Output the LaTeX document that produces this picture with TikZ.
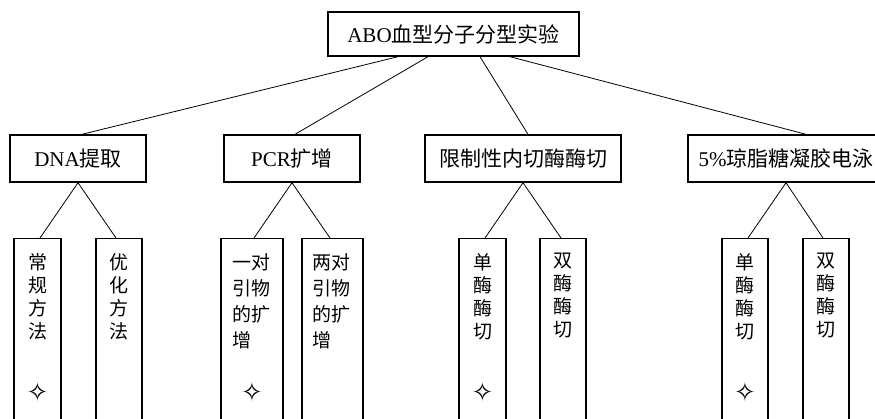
\documentclass[tikz,border=0pt]{standalone}
\usepackage{fontspec}
\setmainfont{Liberation Serif}
\newfontfamily\cjk{Noto Sans CJK SC}
\newfontfamily\symf{DejaVu Sans}
\begin{document}
\begin{tikzpicture}[x=1pt,y=-1pt,
  box/.style={draw, line width=1.4pt, inner sep=0pt, font=\fontsize{21}{25}\selectfont},
  leaf/.style={draw, line width=1.4pt, inner sep=0pt, anchor=north, minimum height=230},
  ltext/.style={anchor=north, inner sep=0pt, align=left, font=\cjk\fontsize{19}{23}\selectfont},
  star/.style={inner sep=0pt, font=\symf\fontsize{26}{26}\selectfont},
  conn/.style={line width=0.8pt}]
\useasboundingbox (0,0) rectangle (875,418);
\fill[white] (0,0) rectangle (875,418);
% top
\node[box, minimum width=251, minimum height=44] (top) at (453.5,34) {ABO{\cjk 血型分子分型实验}};
% level 2
\node[box, minimum width=136, minimum height=47] (dna) at (78,158.5) {DNA{\cjk 提取}};
\node[box, minimum width=136, minimum height=47] (pcr) at (292,158.5) {PCR{\cjk 扩增}};
\node[box, minimum width=196, minimum height=47] (xz) at (523,158.5) {{\cjk 限制性内切酶酶切}};
\node[box, minimum width=196, minimum height=47] (dy) at (786,158.5) {5\%{\cjk 琼脂糖凝胶电泳}};
% top connectors
\draw[conn] ([xshift=-55.5]top.south) -- ([xshift=4]dna.north);
\draw[conn] ([xshift=-25.5]top.south) -- ([xshift=3]pcr.north);
\draw[conn] ([xshift=26.5]top.south) -- ([xshift=5]xz.north);
\draw[conn] ([xshift=56.5]top.south) -- ([xshift=20]dy.north);
% leaves
\node[leaf, minimum width=47] (l1) at (37.5,238) {};
\node[leaf, minimum width=46] (l2) at (119,238) {};
\node[leaf, minimum width=62] (l3) at (252,238) {};
\node[leaf, minimum width=61] (l4) at (332.5,238) {};
\node[leaf, minimum width=47] (l5) at (482.5,238) {};
\node[leaf, minimum width=46] (l6) at (563,238) {};
\node[leaf, minimum width=46] (l7) at (745,238) {};
\node[leaf, minimum width=46] (l8) at (826,238) {};
% leaf connectors
\draw[conn] (dna.south) -- ([xshift=2.5]l1.north);
\draw[conn] (dna.south) -- ([xshift=-3]l2.north);
\draw[conn] (pcr.south) -- ([xshift=2]l3.north);
\draw[conn] (pcr.south) -- ([xshift=-2.5]l4.north);
\draw[conn] (xz.south) -- ([xshift=2.5]l5.north);
\draw[conn] (xz.south) -- ([xshift=-2]l6.north);
\draw[conn] (dy.south) -- ([xshift=3]l7.north);
\draw[conn] (dy.south) -- ([xshift=-3]l8.north);
% leaf texts
\node[ltext] (t1) at ([yshift=-15]l1.north) {常\\规\\方\\法};
\node[ltext] (t2) at ([yshift=-15]l2.north) {优\\化\\方\\法};
\node[ltext, font=\cjk\fontsize{19}{26}\selectfont] (t3) at ([yshift=-15,xshift=-1]l3.north) {一对\\引物\\的扩\\增};
\node[ltext, font=\cjk\fontsize{19}{26}\selectfont] (t4) at ([yshift=-15,xshift=-1]l4.north) {两对\\引物\\的扩\\增};
\node[ltext] (t5) at ([yshift=-15]l5.north) {单\\酶\\酶\\切};
\node[ltext] (t6) at ([yshift=-15]l6.north) {双\\酶\\酶\\切};
\node[ltext] (t7) at ([yshift=-15]l7.north) {单\\酶\\酶\\切};
\node[ltext] (t8) at ([yshift=-15]l8.north) {双\\酶\\酶\\切};
% stars
\node[star] (s1) at (l1.north |- 0,392) {✧};
\node[star] (s3) at (l3.north |- 0,392) {✧};
\node[star] (s5) at (l5.north |- 0,392) {✧};
\node[star] (s7) at (l7.north |- 0,392) {✧};
\end{tikzpicture}
\end{document}
